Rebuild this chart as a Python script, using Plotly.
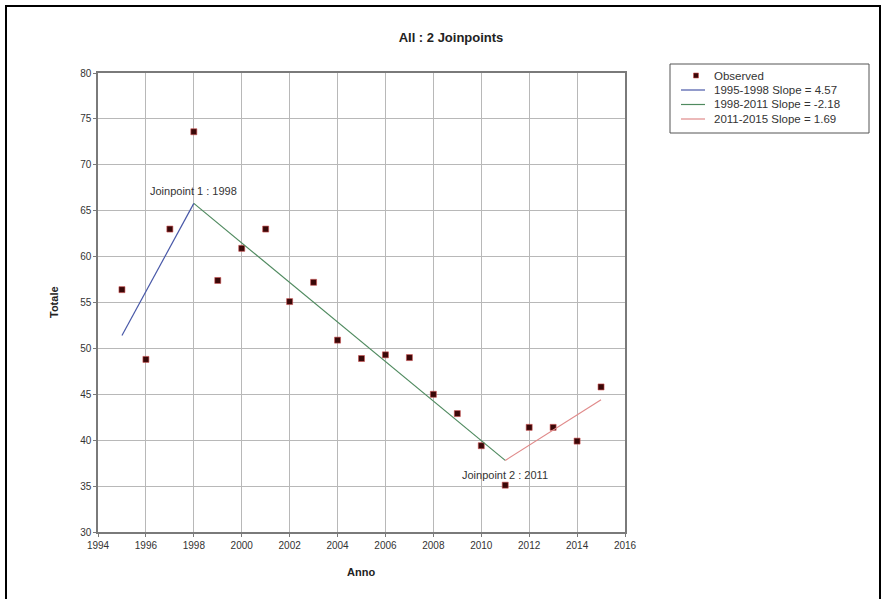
import plotly.graph_objects as go

years = list(range(1995, 2016))
observed = [56.4, 48.8, 63.0, 73.6, 57.4, 60.9, 63.0, 55.1, 57.2, 50.9, 48.9,
            49.3, 49.0, 45.0, 42.9, 39.4, 35.1, 41.4, 41.4, 39.9, 45.8]

seg1_years = [1995, 1998]
seg1_fit = [51.4, 65.8]
seg2_years = [1998, 2011]
seg2_fit = [65.8, 37.8]
seg3_years = [2011, 2015]
seg3_fit = [37.8, 44.4]

legend_names = ["Observed", "1995-1998 Slope = 4.57", "1998-2011 Slope = -2.18",
                "2011-2015 Slope = 1.69"]
joinpoint_labels = ["Joinpoint 1 : 1998", "Joinpoint 2 : 2011"]

x_ticks = list(range(1994, 2017, 2))
y_ticks = list(range(30, 81, 5))

FONT = "Liberation Sans, Arial, sans-serif"
TXT = "#333333"
MARK_FILL = "#3a0808"
MARK_EDGE = "#d05050"
SEG_COLORS = ["#4858a8", "#4f8a5f", "#e08a8a"]

# plot area in pixels
PL, PR, PT, PB = 98, 625, 73, 532


def px(x):
    return (x - PL) / (PR - PL)


def py(y):
    return (PB - y) / (PB - PT)


fig = go.Figure()
fig.add_trace(go.Scatter(x=years, y=observed, mode="markers", name=legend_names[0],
                         marker=dict(symbol="square", size=6, color=MARK_FILL,
                                     line=dict(color=MARK_EDGE, width=0.6))))
for (sx, sy, nm, col) in [(seg1_years, seg1_fit, legend_names[1], SEG_COLORS[0]),
                          (seg2_years, seg2_fit, legend_names[2], SEG_COLORS[1]),
                          (seg3_years, seg3_fit, legend_names[3], SEG_COLORS[2])]:
    fig.add_trace(go.Scatter(x=sx, y=sy, mode="lines", name=nm,
                             line=dict(color=col, width=1.2)))

fig.update_layout(
    width=885, height=599,
    margin=dict(l=PL, r=885 - PR, t=PT, b=599 - PB),
    paper_bgcolor="white", plot_bgcolor="white",
    font=dict(family=FONT, size=10, color=TXT),
    title=dict(text="<b>All : 2 Joinpoints</b>", x=451 / 885, xanchor="center",
               y=1 - 37 / 599, yanchor="middle",
               font=dict(family=FONT, size=13, color="#222222")),
    showlegend=False,
    xaxis=dict(range=[1994, 2016], tickmode="array", tickvals=x_ticks,
               ticktext=[str(v) for v in x_ticks],
               showgrid=True, gridcolor="#b8b8b8", gridwidth=1,
               showline=True, linecolor="#7a7a7a", linewidth=1.5, mirror=True,
               ticks="outside", ticklen=3, tickcolor="#7a7a7a",
               zeroline=False, tickfont=dict(size=10, color=TXT)),
    yaxis=dict(range=[30, 80], tickmode="array", tickvals=y_ticks,
               ticktext=[str(v) for v in y_ticks],
               showgrid=True, gridcolor="#b8b8b8", gridwidth=1,
               showline=True, linecolor="#7a7a7a", linewidth=1.5, mirror=True,
               ticks="outside", ticklen=3, tickcolor="#7a7a7a",
               zeroline=False, tickfont=dict(size=10, color=TXT)),
)

# axis titles
fig.add_annotation(text="<b>Anno</b>", xref="paper", yref="paper",
                   x=px(361), y=py(572), showarrow=False,
                   xanchor="center", yanchor="middle",
                   font=dict(family=FONT, size=11, color="#222222"))
fig.add_annotation(text="<b>Totale</b>", xref="paper", yref="paper",
                   x=px(54), y=py(302), showarrow=False,
                   textangle=-90, xanchor="center", yanchor="middle",
                   font=dict(family=FONT, size=11, color="#222222"))

# joinpoint labels
fig.add_annotation(text=joinpoint_labels[0], x=seg1_years[1], y=seg1_fit[1],
                   showarrow=False, yshift=12, xanchor="center", yanchor="middle",
                   font=dict(family=FONT, size=11, color=TXT))
fig.add_annotation(text=joinpoint_labels[1], x=seg3_years[0], y=seg3_fit[0],
                   showarrow=False, yshift=-15, xanchor="center", yanchor="middle",
                   font=dict(family=FONT, size=11, color=TXT))

# legend box (drawn manually for the compact row spacing)
fig.add_shape(type="rect", xref="paper", yref="paper",
              x0=px(670), x1=px(869), y0=py(133), y1=py(64),
              line=dict(color="#555555", width=1), fillcolor="white")
row_y = [75.5, 90, 104.5, 119]
fig.add_shape(type="rect", xref="paper", yref="paper",
              x0=px(693.5), x1=px(698.5), y0=py(row_y[0] + 2.5), y1=py(row_y[0] - 2.5),
              line=dict(color=MARK_EDGE, width=0.6), fillcolor=MARK_FILL)
for i, col in enumerate(SEG_COLORS):
    fig.add_shape(type="line", xref="paper", yref="paper",
                  x0=px(681), x1=px(705), y0=py(row_y[i + 1]), y1=py(row_y[i + 1]),
                  line=dict(color=col, width=1.2))
for i, nm in enumerate(legend_names):
    fig.add_annotation(text=nm, xref="paper", yref="paper", x=px(712), y=py(row_y[i]),
                       showarrow=False, xanchor="left", yanchor="middle",
                       font=dict(family=FONT, size=11.5, color=TXT))

# outer frame
fig.add_shape(type="rect", xref="paper", yref="paper",
              x0=px(6), x1=px(880), y0=py(610), y1=py(6),
              line=dict(color="black", width=2), layer="below")

fig.write_html("out.html", config={"displayModeBar": False},
               post_script="document.body.style.margin='0';")
